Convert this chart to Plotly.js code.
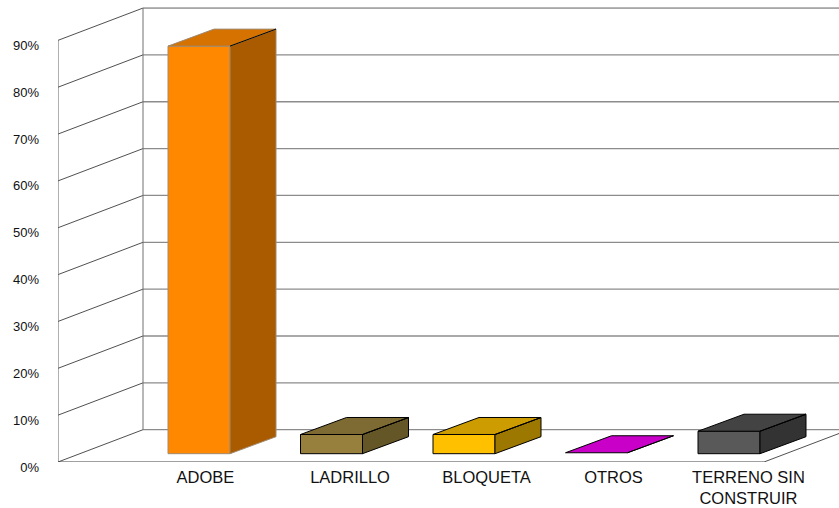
<!DOCTYPE html>
<html>
<head>
<meta charset="utf-8">
<script src="https://cdn.plot.ly/plotly-3.0.1.min.js"></script>
<style>html,body{margin:0;padding:0;background:#fff}</style>
</head>
<body>
<div id="chart" style="width:839px;height:508px"></div>
<script>
// Data
var categories = ['ADOBE', 'LADRILLO', 'BLOQUETA', 'OTROS', 'TERRENO SIN<br>CONSTRUIR'];
var values = [87.0, 4.1, 4.1, 0.2, 4.8];
var yTicks = [0, 10, 20, 30, 40, 50, 60, 70, 80, 90];
var frontColors = ['#FF8800', '#97803E', '#FFC000', '#C800C8', '#595959'];
var topColors = ['#D57200', '#7E6B34', '#CC9C00', '#C800C8', '#434343'];
var sideColors = ['#AA5B00', '#655628', '#9C7800', '#850085', '#333333'];
var edgeColors = ['#A08A70', '#000000', '#000000', '#000000', '#000000'];
var labelCenters = [0.283, 1.374, 2.404, 3.362, 4.381];

// Oblique projection settings (x in category slots, y in percent)
var pxPerSlot = 132.5, pxPerPct = 4.685;
var barW = 62 / pxPerSlot, barDx = 46 / pxPerSlot, barDy = 17 / pxPerPct, barBase = 8.3 / pxPerPct;
var wallL = -110 / pxPerSlot, wallDx = 85 / pxPerSlot, wallDy = 32.3 / pxPerPct;
var floorEnd = 596 / pxPerSlot, xMax = 671 / pxPerSlot;

var traces = [];
function line(xs, ys, color, width) {
  traces.push({type: 'scatter', mode: 'lines', x: xs, y: ys, hoverinfo: 'skip', showlegend: false,
    line: {color: color, width: width}});
}
function poly(xs, ys, fill, edge) {
  traces.push({type: 'scatter', mode: 'lines', x: xs, y: ys, fill: 'toself', fillcolor: fill,
    hoverinfo: 'skip', showlegend: false, line: {color: edge, width: 1}});
}
var backX = wallL + wallDx;
yTicks.forEach(function (v) {
  var top = v === yTicks[yTicks.length - 1];
  line([backX, xMax + 0.1], [v + wallDy, v + wallDy], (top ? '#606060' : '#8C8C8C'), (top ? 1 : 1.3));
  line([wallL, backX], [v, v + wallDy], '#505050', 1);
});
var yMaxT = yTicks[yTicks.length - 1];
line([wallL, wallL], [0, yMaxT], '#606060', 1);
line([backX, backX], [wallDy, yMaxT + wallDy], '#707070', 1);
line([wallL, floorEnd], [0, 0], '#404040', 1);
line([floorEnd, floorEnd + wallDx], [0, wallDy], '#505050', 1);

values.forEach(function (v, i) {
  var x0 = i, x1 = i + barW, b = barBase, t = barBase + v;
  if (v >= 0.5) {
    poly([x0, x1, x1, x0, x0], [b, b, t, t, b], frontColors[i], edgeColors[i]);
    poly([x1, x1 + barDx, x1 + barDx, x1, x1], [b, b + barDy, t + barDy, t, b], sideColors[i], edgeColors[i]);
  }
  poly([x0, x1, x1 + barDx, x0 + barDx, x0], [t, t, t + barDy, t + barDy, t], topColors[i], edgeColors[i]);
  line([x1, x1 + barDx], [t, t + barDy], '#000000', 1);
});

var layout = {
  width: 839, height: 508,
  margin: {l: 58, r: 0, t: 0, b: 46, pad: 0},
  paper_bgcolor: '#fff', plot_bgcolor: '#fff',
  showlegend: false,
  font: {family: 'Liberation Sans, Arial, sans-serif', color: '#111'},
  xaxis: {
    range: [wallL, xMax], showgrid: false, zeroline: false, showline: false, ticks: '',
    tickmode: 'array', tickvals: labelCenters, ticktext: categories, tickangle: 0,
    tickfont: {size: 16.5, color: '#111'}, ticklabelstandoff: 3
  },
  yaxis: {
    range: [0, 462 / pxPerPct], showgrid: false, zeroline: false, showline: false, ticks: '',
    tickmode: 'array', tickvals: yTicks, ticktext: yTicks.map(function (v) { return v + '%'; }),
    tickfont: {size: 13, color: '#111'}, ticklabelstandoff: 18, ticklabelshift: 5
  }
};
Plotly.newPlot('chart', traces, layout, {staticPlot: true, displayModeBar: false});
</script>
</body>
</html>
